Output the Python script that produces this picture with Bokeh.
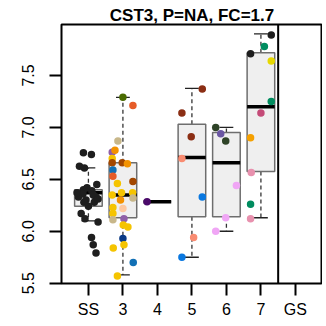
from bokeh.plotting import figure
from bokeh.models import FixedTicker, Span, ColumnDataSource, Range1d
from bokeh.embed import file_html
from bokeh.resources import INLINE

# ---- data ----
categories = ["SS", "3", "4", "5", "6", "7", "GS"]
box_groups = ["SS", "3", "4", "5", "6", "7"]
whisker_low = [6.10, 5.58, 6.285, 5.75, 6.00, 6.13]
q1 = [6.24, 6.13, 6.285, 6.14, 6.14, 6.575]
median = [6.37, 6.35, 6.285, 6.71, 6.66, 7.20]
q3 = [6.40, 6.66, 6.285, 7.03, 6.95, 7.72]
whisker_high = [6.61, 7.29, 6.285, 7.375, 7.00, 7.90]

pt_group = (["SS"] * 24 + ["3"] * 30 + ["4"] * 1 + ["5"] * 7 + ["6"] * 6 + ["7"] * 10)
pt_value = [
    6.755, 6.74, 6.625, 6.61, 6.45, 6.40, 6.39, 6.42, 6.36, 6.33, 6.33, 6.30,
    6.35, 6.37, 6.28, 6.28, 6.24, 6.31, 6.17, 6.12, 6.09, 5.94, 5.87, 5.79,
    7.29, 7.21, 6.87, 6.76, 6.78, 6.70, 6.66, 6.66, 6.65, 6.59, 6.53, 6.46,
    6.48, 6.35, 6.37, 6.37, 6.30, 6.32, 6.22, 6.23, 6.17, 6.11, 6.12, 6.06,
    6.04, 5.93, 5.87, 5.84, 5.70, 5.57,
    6.285,
    7.37, 7.14, 6.91, 6.70, 6.33, 5.94, 5.75,
    7.00, 6.94, 6.87, 6.44, 6.13, 6.00,
    7.89, 7.78, 7.71, 7.64, 7.25, 7.14, 6.90, 6.565, 6.26, 6.12,
]
pt_jitter = [
    -0.145, 0.087, -0.26, -0.116, 0.243, -0.145, 0.10, -0.04, -0.16, 0.22, -0.29, -0.07,
    0.14, -0.33, -0.13, 0.17, 0.0, 0.28, -0.21, -0.10, 0.28, 0.09, 0.14, 0.22,
    0.0, 0.29, -0.145, -0.31, -0.23, -0.31, -0.31, -0.02, 0.13, -0.29, -0.29, -0.16,
    0.29, -0.31, -0.04, 0.28, -0.07, 0.29, 0.0, -0.29, -0.29, -0.29, 0.03, 0.01,
    0.145, 0.0, 0.03, -0.28, 0.30, -0.16,
    -0.30,
    0.30, -0.29, -0.02, -0.29, 0.30, 0.05, -0.29,
    -0.31, -0.165, -0.02, 0.29, -0.02, -0.31,
    0.30, 0.10, -0.30, 0.30, 0.30, 0.0, -0.30, -0.28, -0.30, -0.30,
]
K = "#1e1e1e"; Y = "#f5c400"; O = "#f39200"; BR = "#a34700"; TN = "#c8b78a"
PU = "#8f5fa8"; BL = "#1170b5"; OR = "#e65c28"
pt_color = (
    [K] * 24 +
    ["#4a6b00", OR, TN, PU, O, Y, BR, BR, O, BL, OR, Y,
     BR, Y, Y, Y, O, TN, "#fdc8a0", Y, Y, TN, PU, Y,
     Y, "#0b3a85", Y, Y, BL, Y] +
    ["#4b0a6a"] +
    ["#8b2e14", "#8b2e14", "#8b2e14", "#f98c72", "#0a78e0", "#f98c72", "#0a78e0"] +
    ["#2e4327", "#6b57a3", "#2e4327", "#f0a6f5", "#f0a6f5", "#f0a6f5"] +
    [K, "#008c5f", K, "#e6d800", "#008c5f", "#c44b78", "#f5a000", "#e891ae", "#008c5f", "#e891ae"]
)
y_ticks = [5.5, 6.0, 6.5, 7.0, 7.5]
y_tick_labels = ["5.5", "6.0", "6.5", "7.0", "7.5"]

# ---- derived ----
pos = {c: i + 1 for i, c in enumerate(categories)}
bx = [pos[g] for g in box_groups]
box_src = ColumnDataSource(dict(
    x=bx, left=[x - 0.4 for x in bx], right=[x + 0.4 for x in bx],
    cl=[x - 0.2 for x in bx], cr=[x + 0.2 for x in bx],
    lo=whisker_low, q1=q1, med=median, q3=q3, hi=whisker_high))
pt_src = ColumnDataSource(dict(
    x=[pos[g] + j for g, j in zip(pt_group, pt_jitter)], y=pt_value, c=pt_color))

FONT = "Liberation Sans"
p = figure(width=322, height=322, x_range=Range1d(0.22, 7.785), y_range=Range1d(5.497, 7.991),
           output_backend="svg", toolbar_location=None,
           min_border_left=61, min_border_right=0, min_border_top=24, min_border_bottom=39,
           title="CST3, P=NA, FC=1.7")
p.title.align = "center"
p.title.text_font = FONT
p.title.text_font_size = "17px"
p.title.text_font_style = "bold"
p.title.text_color = "black"
p.title.standoff = 0
p.title.offset = 0

p.xgrid.visible = False
p.ygrid.visible = False
p.outline_line_color = "black"
p.outline_line_width = 2
p.outline_line_alpha = 1

for ax in (p.xaxis[0], p.yaxis[0]):
    ax.axis_line_color = None
    ax.major_tick_out = 12
    ax.major_tick_in = 0
    ax.major_tick_line_width = 2
    ax.major_tick_line_color = "black"
    ax.minor_tick_line_color = None
    ax.major_label_text_font = FONT
    ax.major_label_text_font_size = "16px"
    ax.major_label_text_color = "black"

p.xaxis.ticker = FixedTicker(ticks=[pos[c] for c in categories])
p.xaxis.major_label_overrides = {pos[c]: c for c in categories}
p.xaxis.major_label_standoff = 5
p.yaxis.ticker = FixedTicker(ticks=y_ticks)
p.yaxis.major_label_overrides = dict(zip(y_ticks, y_tick_labels))
p.yaxis.major_label_orientation = "vertical"
p.yaxis.major_label_standoff = 15

# whiskers
p.segment(x0="x", y0="q3", x1="x", y1="hi", source=box_src, line_color="#333333",
          line_width=1.3, line_dash="4 3")
p.segment(x0="x", y0="q1", x1="x", y1="lo", source=box_src, line_color="#333333",
          line_width=1.3, line_dash="4 3")
p.segment(x0="cl", y0="hi", x1="cr", y1="hi", source=box_src, line_color="#222222", line_width=1.3)
p.segment(x0="cl", y0="lo", x1="cr", y1="lo", source=box_src, line_color="#222222", line_width=1.3)
# boxes
p.quad(left="left", right="right", bottom="q1", top="q3", source=box_src,
       fill_color="#efefef", line_color="#6e6e6e", line_width=1.5)
p.segment(x0="left", y0="med", x1="right", y1="med", source=box_src,
          line_color="black", line_width=3.5)
# points
p.scatter(x="x", y="y", source=pt_src, size=7.5, fill_color="c", line_color=None)

p.add_layout(Span(location=6.5, dimension="height", line_color="black", line_width=2))

open("out.html", "w").write(file_html(p, INLINE))
